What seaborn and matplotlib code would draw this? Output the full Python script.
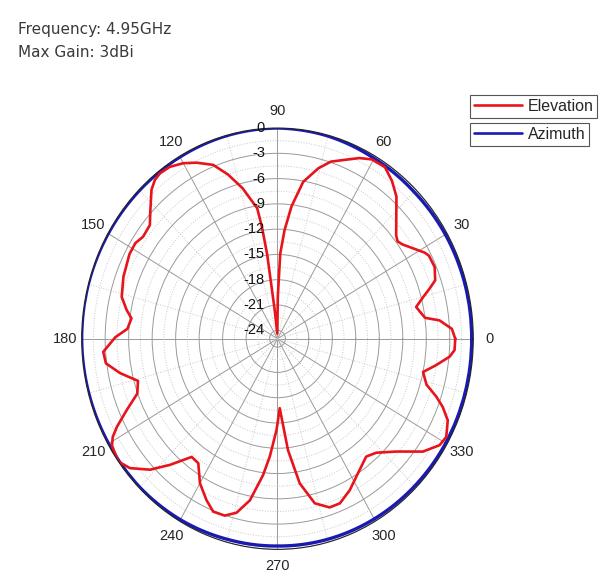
"""
Antenna radiation pattern at 4.95 GHz: elevation and azimuth cuts on a polar chart.
"""

import numpy as np
import pandas as pd
import matplotlib
matplotlib.use("Agg")
import matplotlib.pyplot as plt
from matplotlib.lines import Line2D
import seaborn as sns

# elevation cut, angle in degrees and gain in dB
elev_deg = [0, 3, 6, 7.5, 12, 15, 17, 19, 23, 27, 28.5, 35, 37, 39, 48, 52, 56, 60.5,
            64, 67.5, 72, 75.5, 80, 83.5, 86, 88, 89.5, 92, 96, 97, 97.5, 98.5, 99.5,
            104, 108, 111.7, 116.3, 120, 124, 127.4, 129.7, 132.3, 136.7, 140.4, 144.8,
            148, 152, 159.5, 166, 170, 172.6, 176.5, 179.5, 184, 187.6, 191.5, 195.7,
            200, 203.7, 207, 209, 211, 215.7, 219.2, 223.7, 227.5, 232, 235.6, 240,
            244.7, 248.2, 252.2, 255.8, 259.6, 263.5, 266, 269.4, 272, 275.8, 279.4,
            283.7, 288.4, 292.2, 297.2, 302.7, 309, 313, 318.6, 324.2, 328.6, 331.6,
            336, 339, 341.3, 344, 348, 351.2, 354.5, 356.6, 360]
elev_db = [-2.3, -2.7, -4.2, -6.0, -6.9, -5.7, -4.7, -3.7, -3.2, -3.3, -3.6, -5.5, -5.8, -5.5,
           -2.3, -1.25, -0.45, -0.55, -1.15, -2.0, -2.9, -4.1, -6.1, -9.2, -12.1, -14.9,
           -20.0, -24.4, -21.5, -18.8, -14.9, -11.6, -9.3, -6.6, -4.5, -2.8, -1.7, -0.95,
           -0.4, -0.3, -0.5, -1.1, -2.7, -3.85, -4.0, -3.6, -3.6, -4.0, -4.5, -5.45, -6.2,
           -5.8, -4.3, -2.7, -2.9, -4.5, -6.5, -5.95, -4.0, -2.0, -0.95, -0.35, 0.0, -0.7,
           -2.5, -4.7, -7.2, -7.1, -5.2, -3.8, -2.9, -2.95, -3.7, -5.5, -8.7, -11.0, -14.2,
           -16.75, -11.7, -7.6, -4.9, -3.9, -3.9, -4.8, -6.0, -7.0, -6.5, -4.75, -2.1,
           -0.75, -0.5, -1.2, -2.4, -3.6, -5.2, -6.0, -4.5, -2.9, -2.35, -2.3]

# azimuth cut, almost omnidirectional
azim_deg = [0, 15, 30, 45, 60, 75, 90, 105, 120, 135, 150, 165, 180,
            195, 210, 225, 240, 255, 270, 285, 300, 315, 330, 345, 360]
azim_db = [-0.2, -0.2, -0.25, -0.35, -0.3, -0.1, 0.0, -0.05, -0.1, -0.1, -0.05, 0.0, 0.0,
           -0.05, -0.1, -0.1, -0.2, -0.35, -0.4, -0.35, -0.3, -0.25, -0.2, -0.2, -0.2]

theta_ticks = [0, 30, 60, 90, 120, 150, 180, 210, 240, 270, 300, 330]
theta_minor = [15, 45, 75, 105, 135, 165, 195, 225, 255, 285, 315, 345]
r_ticks = [-24, -21, -18, -15, -12, -9, -6, -3, 0]
r_minor = [-22.5, -19.5, -16.5, -13.5, -10.5, -7.5, -4.5, -1.5]
r_min = -25

df = pd.concat([
    pd.DataFrame({"theta": np.deg2rad(elev_deg), "gain": elev_db, "cut": "Elevation"}),
    pd.DataFrame({"theta": np.deg2rad(azim_deg), "gain": azim_db, "cut": "Azimuth"}),
], ignore_index=True)

sns.set_style("white")
plt.rcParams["font.family"] = ["Liberation Sans", "DejaVu Sans"]

colors = {"Elevation": "#e8141c", "Azimuth": "#1a1ab0"}

fig = plt.figure(figsize=(6.16, 5.86), dpi=100)
ax = fig.add_axes([0.1326, 0.0625, 0.6357, 0.719], projection="polar")
ax.set_aspect("auto")

sns.lineplot(data=df[df.cut == "Azimuth"], x="theta", y="gain", color=colors["Azimuth"],
             sort=False, estimator=None, lw=2.4, ax=ax, legend=False)
# the azimuth cut follows the arc between its samples, not a chord
ax.lines[-1].get_path()._interpolation_steps = 30
sns.lineplot(data=df[df.cut == "Elevation"], x="theta", y="gain", color=colors["Elevation"],
             sort=False, estimator=None, lw=1.9, ax=ax, legend=False)

ax.set_ylim(r_min, 0)
ax.set_xlabel("")
ax.set_ylabel("")
ax.set_xticks(np.deg2rad(theta_ticks))
ax.set_xticklabels([str(t) for t in theta_ticks], fontsize=10.5)
ax.set_xticks(np.deg2rad(theta_minor), minor=True)
ax.set_yticks(r_ticks)
ax.set_yticklabels([])
ax.set_yticks(r_minor, minor=True)
ax.tick_params(axis="x", pad=1.5)

ax.xaxis.grid(True, which="major", color="#9a9a9a", lw=0.7, ls="-")
ax.xaxis.grid(True, which="minor", color="#c8c8c8", lw=0.7, ls=":")
ax.yaxis.grid(True, which="major", color="#9a9a9a", lw=0.7, ls="-")
ax.yaxis.grid(True, which="minor", color="#c8c8c8", lw=0.7, ls=":")
ax.spines["polar"].set_color("#222222")
ax.spines["polar"].set_linewidth(0.8)

# radial labels along the 90 degree spoke, right-aligned to its left
for r in r_ticks:
    ax.annotate(str(r), xy=(np.pi / 2, r), xytext=(-9, 0), textcoords="offset points",
                ha="right", va="center", fontsize=10.5, color="#111111")

# two stacked one-entry legend boxes, like the original
leg_kw = dict(frameon=True, fancybox=False, framealpha=1, edgecolor="#555555",
              fontsize=11.5, handlelength=3.0, handletextpad=0.35, borderpad=0.25,
              borderaxespad=0, bbox_transform=fig.transFigure, loc="upper left")
h_el = Line2D([], [], color=colors["Elevation"], lw=1.9)
h_az = Line2D([], [], color=colors["Azimuth"], lw=1.9)
leg1 = ax.legend(handles=[h_el], labels=["Elevation"], bbox_to_anchor=(0.763, 0.838), **leg_kw)
ax.add_artist(leg1)
leg2 = ax.legend(handles=[h_az], labels=["Azimuth"], bbox_to_anchor=(0.763, 0.790), **leg_kw)
for leg in (leg1, leg2):
    leg.get_frame().set_linewidth(0.8)

fig.text(0.030, 0.9415, "Frequency: 4.95GHz", fontsize=11, color="#3a3a3a",
         family=["DejaVu Sans"], va="baseline")
fig.text(0.030, 0.9032, "Max Gain: 3dBi", fontsize=11, color="#3a3a3a",
         family=["DejaVu Sans"], va="baseline")

fig.patch.set_facecolor("w")
fig.savefig("out.png", dpi=100)
